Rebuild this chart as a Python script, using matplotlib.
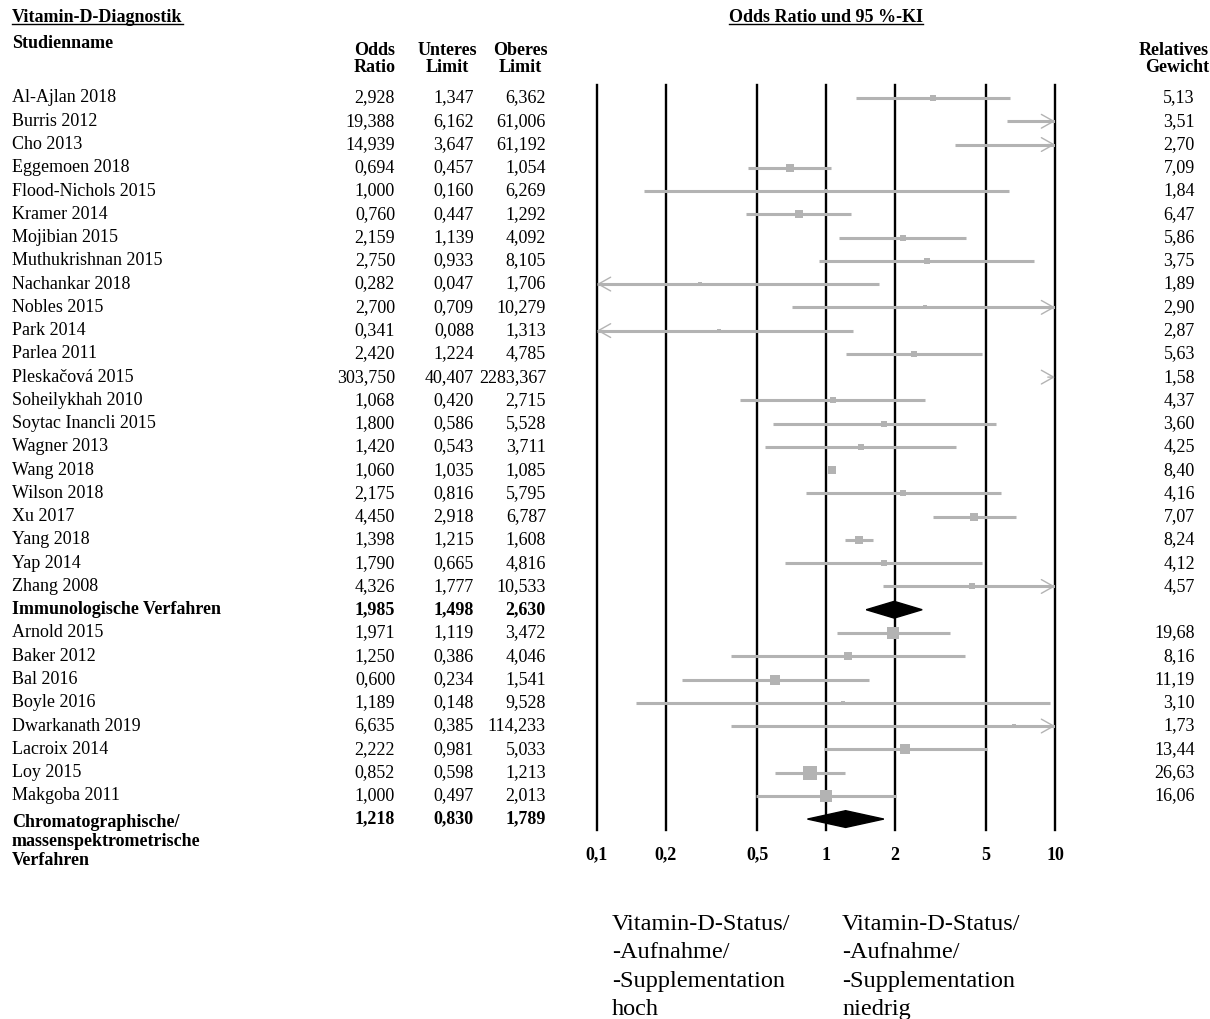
import numpy as np
import matplotlib.pyplot as plt
import matplotlib.transforms as mtransforms
from matplotlib.patches import Polygon

plt.rcParams['font.family'] = ['Liberation Serif', 'DejaVu Serif']

# Immunologische Verfahren
names_immuno = ["Al-Ajlan 2018", "Burris 2012", "Cho 2013", "Eggemoen 2018", "Flood-Nichols 2015",
                "Kramer 2014", "Mojibian 2015", "Muthukrishnan 2015", "Nachankar 2018", "Nobles 2015",
                "Park 2014", "Parlea 2011", "Pleskačová 2015", "Soheilykhah 2010", "Soytac Inancli 2015",
                "Wagner 2013", "Wang 2018", "Wilson 2018", "Xu 2017", "Yang 2018", "Yap 2014", "Zhang 2008"]
or_immuno = [2.928, 19.388, 14.939, 0.694, 1.000, 0.760, 2.159, 2.750, 0.282, 2.700, 0.341,
             2.420, 303.750, 1.068, 1.800, 1.420, 1.060, 2.175, 4.450, 1.398, 1.790, 4.326]
lo_immuno = [1.347, 6.162, 3.647, 0.457, 0.160, 0.447, 1.139, 0.933, 0.047, 0.709, 0.088,
             1.224, 40.407, 0.420, 0.586, 0.543, 1.035, 0.816, 2.918, 1.215, 0.665, 1.777]
hi_immuno = [6.362, 61.006, 61.192, 1.054, 6.269, 1.292, 4.092, 8.105, 1.706, 10.279, 1.313,
             4.785, 2283.367, 2.715, 5.528, 3.711, 1.085, 5.795, 6.787, 1.608, 4.816, 10.533]
w_immuno = [5.13, 3.51, 2.70, 7.09, 1.84, 6.47, 5.86, 3.75, 1.89, 2.90, 2.87,
            5.63, 1.58, 4.37, 3.60, 4.25, 8.40, 4.16, 7.07, 8.24, 4.12, 4.57]
sum_immuno = [1.985, 1.498, 2.630]

# Chromatographische/massenspektrometrische Verfahren
names_chrom = ["Arnold 2015", "Baker 2012", "Bal 2016", "Boyle 2016", "Dwarkanath 2019",
               "Lacroix 2014", "Loy 2015", "Makgoba 2011"]
or_chrom = [1.971, 1.250, 0.600, 1.189, 6.635, 2.222, 0.852, 1.000]
lo_chrom = [1.119, 0.386, 0.234, 0.148, 0.385, 0.981, 0.598, 0.497]
hi_chrom = [3.472, 4.046, 1.541, 9.528, 114.233, 5.033, 1.213, 2.013]
w_chrom = [19.68, 8.16, 11.19, 3.10, 1.73, 13.44, 26.63, 16.06]
sum_chrom = [1.218, 0.830, 1.789]

ticks = [0.1, 0.2, 0.5, 1, 2, 5, 10]
tick_labels = ["0,1", "0,2", "0,5", "1", "2", "5", "10"]

W, H = 1210, 1019
GRAY = '#b3b3b3'
FS = 13


def fx(px):
    return px / W


def fy(px):
    return 1 - px / H


def fmt(v):
    return f"{v:.3f}".replace('.', ',')


fig = plt.figure(figsize=(W / 100, H / 100), dpi=100)

# plot area: 0.1 at x=597, 10 at x=1055; rows from y=98 with 23.26 px spacing
row_h = 23.26
y_top, y_bot = 85, 830
ax = fig.add_axes([fx(597), fy(y_bot), fx(1055 - 597), (y_bot - y_top) / H])
ax.set_xscale('log')
ax.set_xlim(0.1, 10)
ax.set_ylim((y_bot - 98) / row_h, (y_top - 98) / row_h)
for s in ax.spines.values():
    s.set_visible(False)
ax.set_yticks([])
ax.set_xticks(ticks)
ax.set_xticklabels(tick_labels, fontweight='bold', fontsize=FS)
ax.xaxis.set_minor_locator(plt.NullLocator())
ax.tick_params(axis='x', length=0, pad=12)
for t in ticks:
    ax.axvline(t, color='black', lw=1.7, zorder=1, clip_on=False)

rows = []  # (name, or, lo, hi, w, bold)
for n, o, l, h, w in zip(names_immuno, or_immuno, lo_immuno, hi_immuno, w_immuno):
    rows.append((n, o, l, h, w, False))
rows.append(("Immunologische Verfahren", *sum_immuno, None, True))
for n, o, l, h, w in zip(names_chrom, or_chrom, lo_chrom, hi_chrom, w_chrom):
    rows.append((n, o, l, h, w, False))
rows.append(("Chromatographische/\nmassenspektrometrische\nVerfahren", *sum_chrom, None, True))

tr = mtransforms.blended_transform_factory(fig.transFigure, ax.transData)
arrow_kw = dict(arrowstyle='->,head_length=0.8,head_width=0.45', color=GRAY, lw=1.0,
                mutation_scale=11, shrinkA=0, shrinkB=0)

for i, (name, o, l, h, w, bold) in enumerate(rows):
    fw = 'bold' if bold else 'normal'
    if '\n' in name:
        ax.text(fx(12), i - 0.2, name, transform=tr, ha='left', va='top', fontsize=FS,
                fontweight=fw, linespacing=1.13, clip_on=False)
    else:
        ax.text(fx(12), i, name, transform=tr, ha='left', va='center', fontsize=FS,
                fontweight=fw, clip_on=False)
    ax.text(fx(395), i, fmt(o), transform=tr, ha='right', va='center', fontsize=FS, fontweight=fw)
    ax.text(fx(474), i, fmt(l), transform=tr, ha='right', va='center', fontsize=FS, fontweight=fw)
    ax.text(fx(546), i, fmt(h), transform=tr, ha='right', va='center', fontsize=FS, fontweight=fw)

    if w is None:
        dh = 0.36
        ax.add_patch(Polygon([(l, i), (o, i - dh), (h, i), (o, i + dh)], closed=True,
                             facecolor='black', edgecolor='black', zorder=3))
        continue

    ax.text(fx(1195), i, f"{w:.2f}".replace('.', ','), transform=tr, ha='right', va='center',
            fontsize=FS)
    a, b = max(l, 0.1), min(h, 10)
    if a < b:
        ax.plot([a, b], [i, i], color=GRAY, lw=2.2, solid_capstyle='butt', zorder=2)
    if h > 10:
        ax.annotate('', xy=(10, i), xytext=(9.3, i), arrowprops=arrow_kw, annotation_clip=False)
    if l < 0.1:
        ax.annotate('', xy=(0.1, i), xytext=(0.107, i), arrowprops=arrow_kw, annotation_clip=False)
    if 0.1 <= o <= 10:
        ax.plot(o, i, marker='s', color=GRAY, markersize=2.8 * np.sqrt(w) * 0.72,
                markeredgewidth=0, zorder=4)

# headers
t1 = fig.text(fx(12), fy(17), "Vitamin-D-Diagnostik", fontsize=FS, fontweight='bold',
              va='center', ha='left')
t2 = fig.text(fx(826), fy(17), "Odds Ratio und 95 %-KI", fontsize=FS, fontweight='bold',
              va='center', ha='center')
fig.text(fx(12), fy(43), "Studienname", fontsize=FS, fontweight='bold', va='center', ha='left')
fig.text(fx(396), fy(59), "Odds\nRatio", fontsize=FS, fontweight='bold', va='center',
         ha='right', multialignment='center', linespacing=1.05)
fig.text(fx(477), fy(59), "Unteres\nLimit", fontsize=FS, fontweight='bold', va='center',
         ha='right', multialignment='center', linespacing=1.05)
fig.text(fx(548), fy(59), "Oberes\nLimit", fontsize=FS, fontweight='bold', va='center',
         ha='right', multialignment='center', linespacing=1.05)
fig.text(fx(1209), fy(59), "Relatives\nGewicht", fontsize=FS, fontweight='bold', va='center',
         ha='right', multialignment='right', linespacing=1.05)

# underlines for the two top titles
fig.canvas.draw()
renderer = fig.canvas.get_renderer()
for t in (t1, t2):
    bb = t.get_window_extent(renderer).transformed(fig.transFigure.inverted())
    fig.add_artist(plt.Line2D([bb.x0, bb.x1], [bb.y0 + 0.001, bb.y0 + 0.001],
                              color='black', lw=1.0, transform=fig.transFigure))

fig.text(fx(612), fy(914), "Vitamin-D-Status/\n-Aufnahme/\n-Supplementation\nhoch",
         fontsize=17.5, va='top', ha='left', linespacing=1.46)
fig.text(fx(842), fy(914), "Vitamin-D-Status/\n-Aufnahme/\n-Supplementation\nniedrig",
         fontsize=17.5, va='top', ha='left', linespacing=1.46)

fig.savefig("out.png", dpi=100)
